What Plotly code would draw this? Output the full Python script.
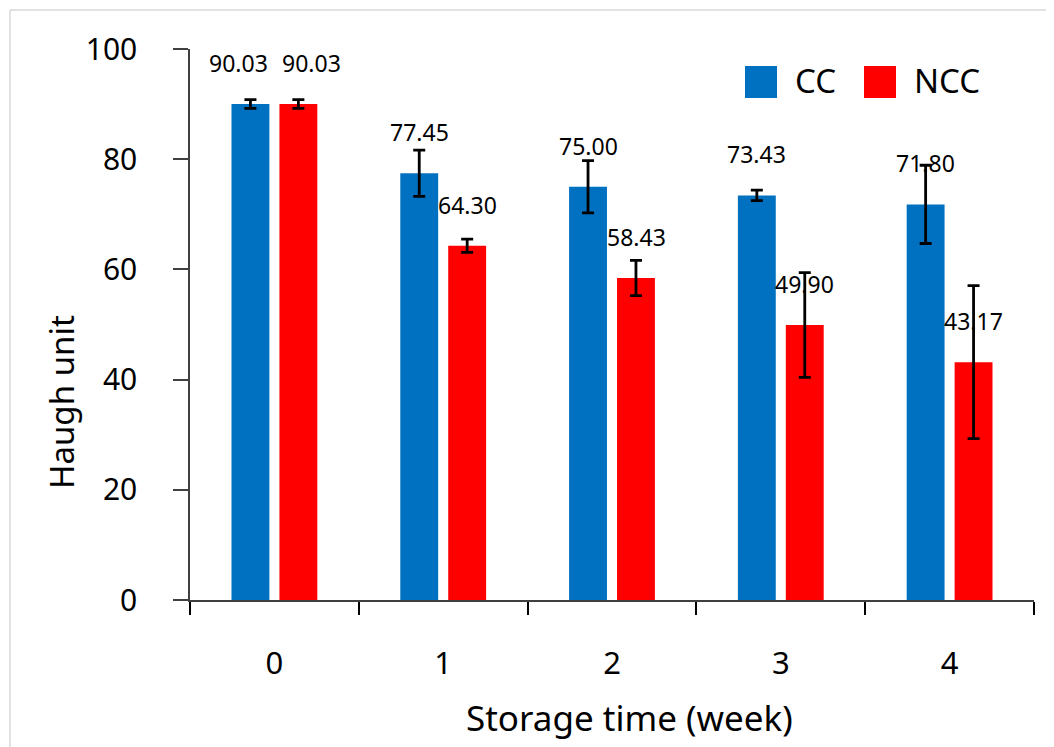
import plotly.graph_objects as go

weeks = ["0", "1", "2", "3", "4"]
cc_values = [90.03, 77.45, 75.00, 73.43, 71.80]
ncc_values = [90.03, 64.30, 58.43, 49.90, 43.17]
cc_err = [0.8, 4.2, 4.75, 0.95, 7.1]
ncc_err = [0.8, 1.2, 3.2, 9.5, 13.9]
series_names = ["CC", "NCC"]
y_ticks = [0, 20, 40, 60, 80, 100]
x_title = "Storage time (week)"
y_title = "Haugh unit"

BLUE = "#0070C0"
RED = "#FF0000"
FONT = "Noto Sans"

OFF = 8  # page body margin
W, H = 1054 - OFF, 747 - OFF
L, R, T, B = 190 - OFF, 20, 49 - OFF, 147
PW = W - L - R
PH = H - T - B

def px(x):
    # x in screenshot pixels
    return (x - OFF - L) / PW

def py(y):
    return (H - B - (y - OFF)) / PH

fig = go.Figure()
for name, vals, errs, col in [(series_names[0], cc_values, cc_err, BLUE),
                              (series_names[1], ncc_values, ncc_err, RED)]:
    fig.add_trace(go.Bar(
        x=weeks, y=vals, name=name, marker=dict(color=col, line=dict(width=0)),
        error_y=dict(type="data", array=errs, visible=True, color="black",
                     thickness=2.8, width=6),
        showlegend=False,
    ))

annotations = []
label_xshift = {0: (-12, 13)}
for i, w in enumerate(weeks):
    sh = label_xshift.get(i, (0, 0))
    for k, (vals, off) in enumerate([(cc_values, -24), (ncc_values, 24)]):
        annotations.append(dict(
            x=w, y=vals[i], xref="x", yref="y", text=f"{vals[i]:.2f}",
            showarrow=False, yanchor="bottom", xanchor="center",
            xshift=off + sh[k], yshift=23,
            font=dict(family=FONT, size=23, color="black"),
        ))

# manual legend
shapes = []
legend_items = [(745, 793, series_names[0], BLUE), (864, 912, series_names[1], RED)]
for sx, tx, name, col in legend_items:
    shapes.append(dict(type="rect", xref="paper", yref="paper",
                       x0=px(sx), x1=px(sx + 32), y0=py(98), y1=py(66),
                       fillcolor=col, line=dict(width=0)))
    annotations.append(dict(x=px(tx), y=py(81), xref="paper", yref="paper",
                            text=name, showarrow=False, xanchor="left", yanchor="middle",
                            font=dict(family=FONT, size=33, color="black")))

# axis titles (placed as in the reference, off-centre)
annotations.append(dict(x=px(629), y=py(717), xref="paper", yref="paper",
                        text=x_title, showarrow=False, xanchor="center", yanchor="middle",
                        font=dict(family=FONT, size=35, color="black")))
annotations.append(dict(x=px(61), y=py(402), xref="paper", yref="paper",
                        text=y_title, showarrow=False, xanchor="center", yanchor="middle",
                        textangle=-90, font=dict(family=FONT, size=33, color="black")))

# chart-area border (light grey)
shapes.append(dict(type="line", xref="paper", yref="paper",
                   x0=px(10), x1=px(10), y0=py(10), y1=py(747),
                   line=dict(color="#d9d9d9", width=1.5)))
shapes.append(dict(type="line", xref="paper", yref="paper",
                   x0=px(10), x1=px(1054), y0=py(10), y1=py(10),
                   line=dict(color="#d9d9d9", width=1.5)))

fig.update_layout(
    width=W, height=H,
    margin=dict(l=L, r=R, t=T, b=B, pad=0),
    paper_bgcolor="white", plot_bgcolor="white",
    barmode="group", bargap=0.432, bargroupgap=0.21,
    font=dict(family=FONT, color="black"),
    annotations=annotations, shapes=shapes,
    xaxis=dict(
        type="category", tickson="boundaries", ticks="outside", ticklen=13,
        tickwidth=1.5, tickcolor="black", showline=True, linecolor="#404040",
        linewidth=1.5, showgrid=False, zeroline=False,
        tickfont=dict(family=FONT, size=31), ticklabelstandoff=35,
        range=[-0.5, 4.5],
    ),
    yaxis=dict(
        range=[0, 100], tickvals=y_ticks, ticks="outside", ticklen=15,
        tickwidth=1.5, tickcolor="#404040", showline=True, linecolor="#404040",
        linewidth=1.5, showgrid=False, zeroline=False,
        tickfont=dict(family=FONT, size=30), ticklabelstandoff=30,
    ),
)

fig.write_html("out.html")
